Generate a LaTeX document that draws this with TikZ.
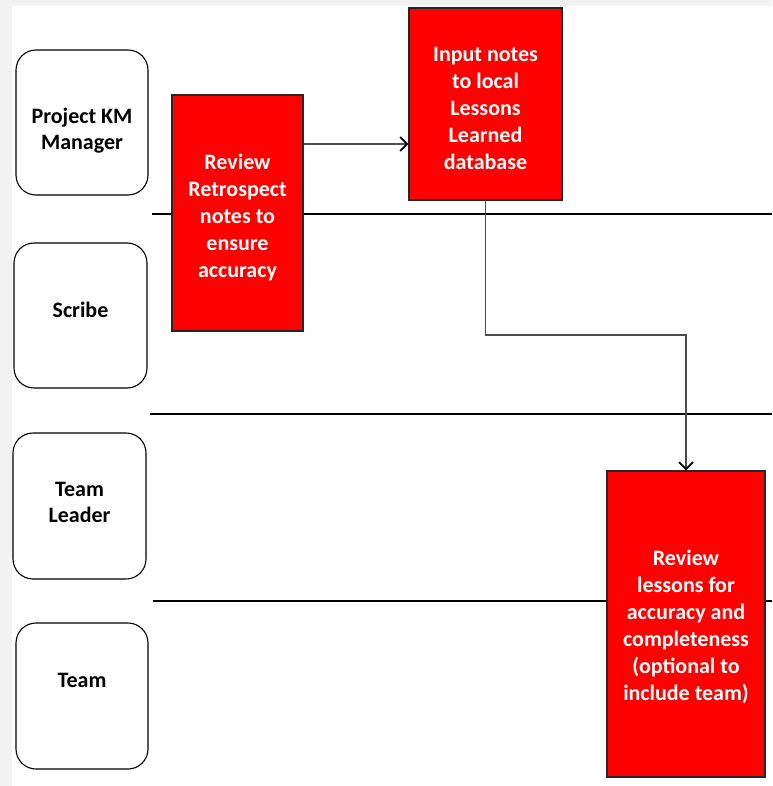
\documentclass[tikz,border=0pt]{standalone}
\usepackage{fontspec}
\setmainfont{Carlito}
\usetikzlibrary{arrows.meta,positioning}
\definecolor{edgegray}{gray}{0.95}
\definecolor{boxred}{HTML}{FF0000}
\tikzset{
  lanebox/.style={draw=black, line width=1.1pt, rounded corners=20pt},
  lanelabel/.style={font=\bfseries\fontsize{22}{26}\selectfont, align=center, text=black},
  redbox/.style={draw=black!85, line width=1.1pt, fill=boxred, inner sep=0pt},
  redtext/.style={font=\bfseries\fontsize{22}{27}\selectfont, align=center, text=white},
  laneline/.style={draw=black, line width=1.6pt},
  flow/.style={draw=black!70, line width=1.1pt, -{Straight Barb[length=7pt,width=14pt,line width=1.8pt,color=black]}}
}
\begin{document}
\begin{tikzpicture}[x=1pt,y=-1pt]
\useasboundingbox (0,0) rectangle (772,786);
\fill[edgegray] (0,0) rectangle (772,786);
\fill[white] (12,6) rectangle (772,786);

% lane boxes
\draw[lanebox] (16,50) rectangle (148,195);
\draw[lanebox] (14,243) rectangle (147,388);
\draw[lanebox] (13,433) rectangle (146,579);
\draw[lanebox] (16,623) rectangle (148,769);
\node[lanelabel] (lpm) at (82,131) {Project KM\\Manager};
\node[lanelabel] (lsc) at (80.5,310) {Scribe};
\node[lanelabel] (ltl) at (79.5,502) {Team\\Leader};
\node[lanelabel] (ltm) at (82,680) {Team};

% lane lines
\draw[laneline] (152,214) -- (772,214);
\draw[laneline] (150,414) -- (772,414);
\draw[laneline] (153,601) -- (772,601);

% red boxes
\draw[redbox] (172,95) rectangle (303,331);
\node[redbox, draw=none, fill=none, minimum width=131pt, minimum height=236pt] (rr) at (237.5,213) {};
\node[redtext] at (237.5,218) {Review\\Retrospect\\notes to\\ensure\\accuracy};

\draw[redbox] (409,8) rectangle (562,200);
\node[redbox, draw=none, fill=none, minimum width=153pt, minimum height=192pt] (in) at (485.5,104) {};
\node[redtext] at (485.5,108) {Input notes\\to local\\Lessons\\Learned\\database};

\draw[redbox] (607,471) rectangle (765,777);
\node[redbox, draw=none, fill=none, minimum width=158pt, minimum height=306pt] (rl) at (686,624) {};
\node[redtext] at (686,627) {Review\\lessons for\\accuracy and\\completeness\\(optional to\\include team)};

% connectors
\coordinate (a1) at (303,144);
\draw[flow] (rr.east |- a1) -- (in.west |- a1);
\coordinate (bend) at (600,335);
\draw[flow] (in.south) |- (bend) -| (rl.north);
\end{tikzpicture}
\end{document}
